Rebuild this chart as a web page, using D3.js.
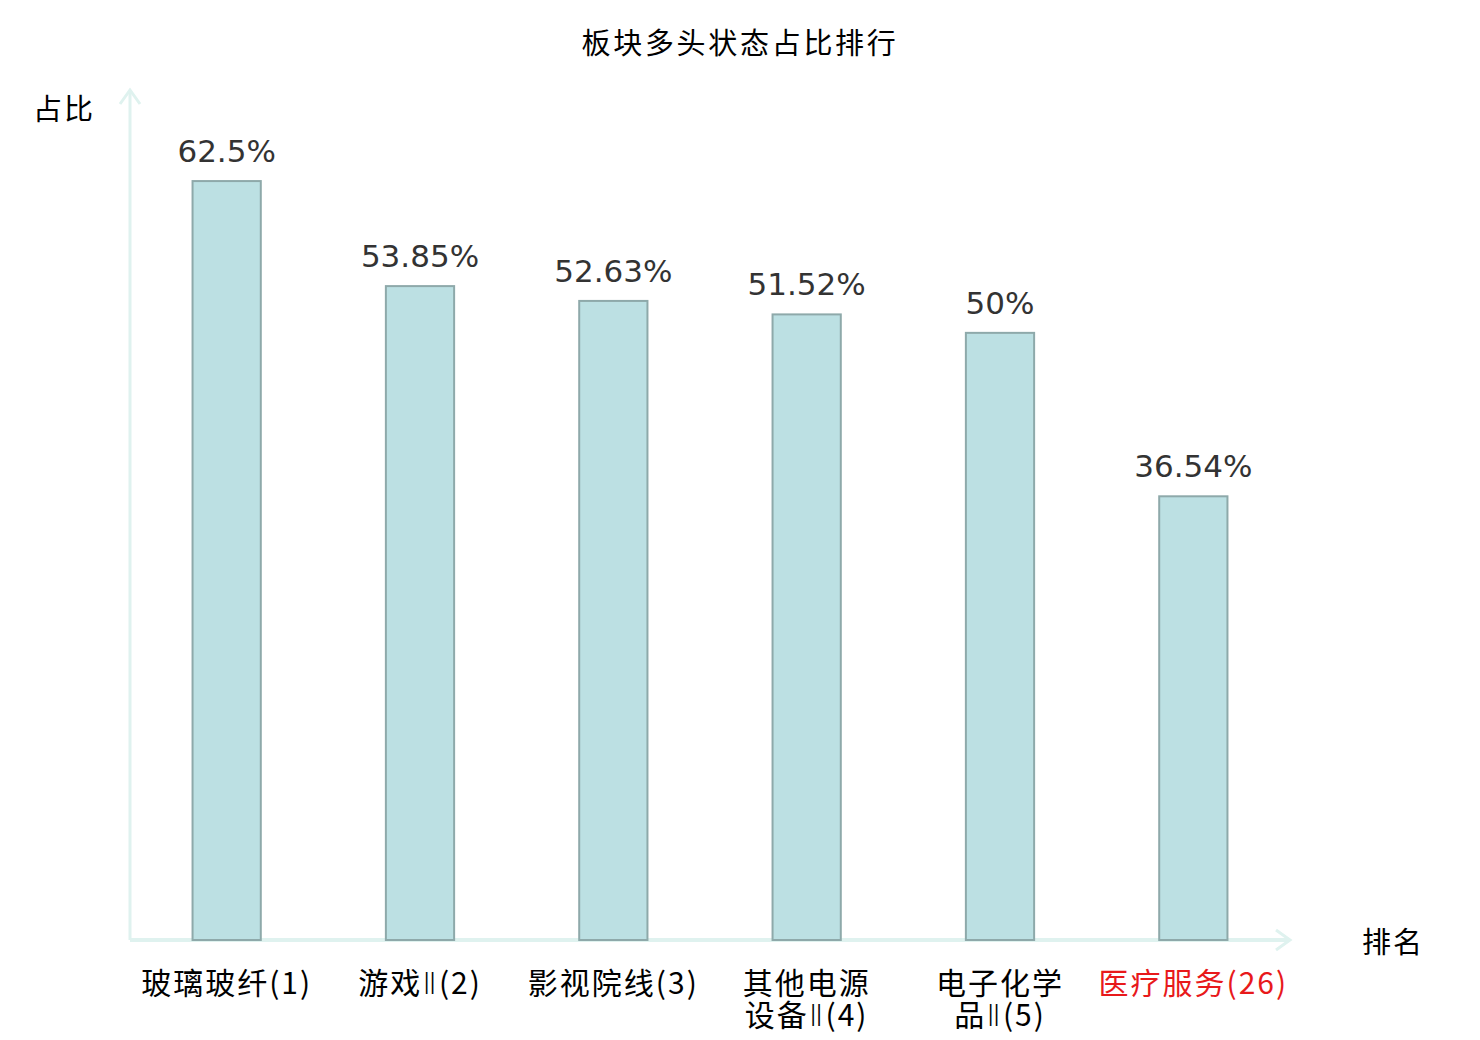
<!DOCTYPE html>
<html><head><meta charset="utf-8">
<script src="https://cdn.jsdelivr.net/npm/d3@7/dist/d3.min.js"></script>
<style>body{margin:0;background:#fff}</style>
</head><body>
<svg id="c" width="1480" height="1040"></svg>
<script>
const title = "板块多头状态占比排行";
const categories = ["玻璃玻纤(1)", "游戏Ⅱ(2)", "影视院线(3)", "其他电源\n设备Ⅱ(4)", "电子化学\n品Ⅱ(5)", "医疗服务(26)"];
const values = [62.5, 53.85, 52.63, 51.52, 50, 36.54];
const valueLabels = ["62.5%", "53.85%", "52.63%", "51.52%", "50%", "36.54%"];
const highlight = [false, false, false, false, false, true];
const yName = "占比", xName = "排名";

const svg = d3.select("#c");
const cjk = "'Noto Sans CJK SC', 'DejaVu Sans', sans-serif";
const pL = 130, pR = 1290, pT = 90, pB = 940;
const x = d3.scaleBand().domain(categories).range([pL, pR]).paddingInner(0).paddingOuter(0);
const y = d3.scaleLinear().domain([0, 70]).range([pB, pT]);
const bw = x.bandwidth() * 0.353;

svg.append("text").attr("x", 740).attr("y", 54).attr("text-anchor", "middle")
  .attr("font-family", cjk).attr("font-size", 29).attr("letter-spacing", 2.7)
  .attr("fill", "#000").text(title);

// axes
const axisColor = "#dff2ef";
svg.append("line").attr("x1", pL).attr("y1", pB).attr("x2", pL).attr("y2", pT)
  .attr("stroke", axisColor).attr("stroke-width", 3);
svg.append("path").attr("d", `M${pL-10},${pT+14} L${pL},${pT} L${pL+10},${pT+14}`)
  .attr("fill", "none").attr("stroke", axisColor).attr("stroke-width", 3);
svg.append("line").attr("x1", pL).attr("y1", pB).attr("x2", pR).attr("y2", pB)
  .attr("stroke", axisColor).attr("stroke-width", 4);
svg.append("path").attr("d", `M${pR-14},${pB-10} L${pR},${pB} L${pR-14},${pB+10}`)
  .attr("fill", "none").attr("stroke", axisColor).attr("stroke-width", 3);

svg.append("text").attr("x", 64).attr("y", 120).attr("text-anchor", "middle")
  .attr("font-family", cjk).attr("font-size", 29).attr("letter-spacing", 2)
  .attr("fill", "#000").text(yName);
svg.append("text").attr("x", 1393).attr("y", 953).attr("text-anchor", "middle")
  .attr("font-family", cjk).attr("font-size", 29).attr("letter-spacing", 2)
  .attr("fill", "#000").text(xName);

// bars
svg.selectAll("rect.bar").data(values).enter().append("rect")
  .attr("x", (d, i) => x(categories[i]) + x.bandwidth() / 2 - bw / 2)
  .attr("y", d => y(d))
  .attr("width", bw)
  .attr("height", d => pB - y(d))
  .attr("fill", "#bce0e3").attr("stroke", "#8ea9aa").attr("stroke-width", 2);

svg.selectAll("text.val").data(values).enter().append("text")
  .attr("x", (d, i) => x(categories[i]) + x.bandwidth() / 2)
  .attr("y", d => y(d) - 19)
  .attr("text-anchor", "middle").attr("font-family", "'DejaVu Sans', sans-serif")
  .attr("font-size", 31).attr("fill", "#333").text((d, i) => valueLabels[i]);

// category labels
categories.forEach((c, i) => {
  const cx = x(c) + x.bandwidth() / 2;
  c.split("\n").forEach((line, j) => {
    const t = svg.append("text").attr("x", cx).attr("y", 994 + j * 32)
      .attr("text-anchor", "middle").attr("font-family", cjk).attr("font-size", 30)
      .attr("letter-spacing", 2)
      .attr("fill", highlight[i] ? "#e8191b" : "#000");
    line.split(/(Ⅱ)/).forEach(part => {
      if (!part) return;
      const s = t.append("tspan").text(part);
      if (part === "Ⅱ") s.attr("font-family", "'DejaVu Sans', sans-serif").attr("font-weight", 300);
    });
  });
});
</script>
</body></html>
